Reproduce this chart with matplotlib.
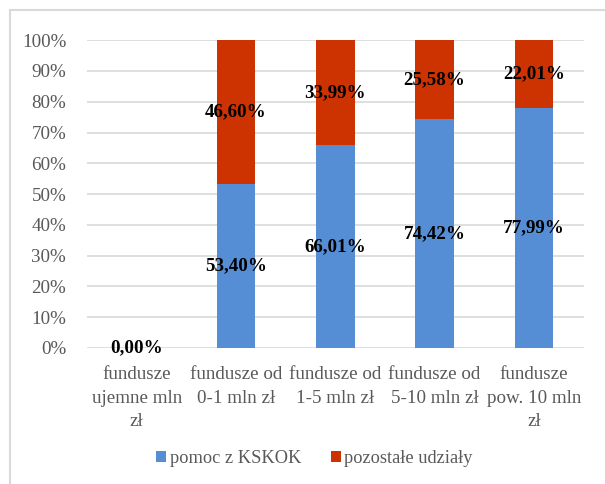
import numpy as np
import matplotlib.pyplot as plt
from matplotlib.patches import Rectangle

# dane
kategorie = ['fundusze\nujemne mln\nzł', 'fundusze od\n0-1 mln zł', 'fundusze od\n1-5 mln zł',
             'fundusze od\n5-10 mln zł', 'fundusze\npow. 10 mln\nzł']
pomoc = [0.00, 53.40, 66.01, 74.42, 77.99]
pozostale = [0.00, 46.60, 33.99, 25.58, 22.01]
serie = ['pomoc z KSKOK', 'pozostałe udziały']

plt.rcParams['font.family'] = ['Liberation Serif', 'DejaVu Serif']

fig = plt.figure(figsize=(6.05, 4.84), dpi=100)
ax = fig.add_axes([0.1438, 0.281, 0.8207, 0.636])

x = np.arange(len(kategorie))
b1 = ax.bar(x, pomoc, width=0.39, color='#558ED5', label=serie[0], zorder=2)
b2 = ax.bar(x, pozostale, width=0.39, bottom=pomoc, color='#CC3300', label=serie[1], zorder=2)

# etykiety danych
for i in range(len(x)):
    ax.text(x[i], pomoc[i] / 2, f'{pomoc[i]:.2f}%'.replace('.', ','),
            ha='center', va='center', fontsize=13.7, fontweight='bold', zorder=3)
    if pozostale[i] > 0:
        ax.text(x[i], pomoc[i] + pozostale[i] / 2, f'{pozostale[i]:.2f}%'.replace('.', ','),
                ha='center', va='center', fontsize=13.7, fontweight='bold', zorder=3)

ax.set_xlim(-0.5, len(x) - 0.5)
ax.set_ylim(0, 100)
ax.set_yticks(np.arange(0, 101, 10))
ax.set_yticklabels([f'{v}%' for v in range(0, 101, 10)])
ax.set_xticks(x)
ax.set_xticklabels(kategorie, linespacing=1.5)
ax.tick_params(axis='y', length=0, pad=15, labelsize=13.7, labelcolor='#595959')
ax.tick_params(axis='x', length=0, pad=13, labelsize=13.7, labelcolor='#595959')
ax.grid(axis='y', color='#D9D9D9', lw=1.2, zorder=0)
for s in ax.spines.values():
    s.set_visible(False)

fig.legend(handles=[b1, b2], loc='center', bbox_to_anchor=(0.52, 0.052), ncol=2,
           frameon=False, fontsize=13.2, handlelength=0.55, handleheight=0.55,
           handletextpad=0.2, columnspacing=1.6, labelcolor='#595959')

# ramka wykresu
fig.patches.append(Rectangle((10 / 605, -0.05), 1.0, 1 - 10 / 484 + 0.05,
                             transform=fig.transFigure, fill=False,
                             edgecolor='#D9D9D9', lw=1.5))

fig.savefig('out.png', dpi=100)
